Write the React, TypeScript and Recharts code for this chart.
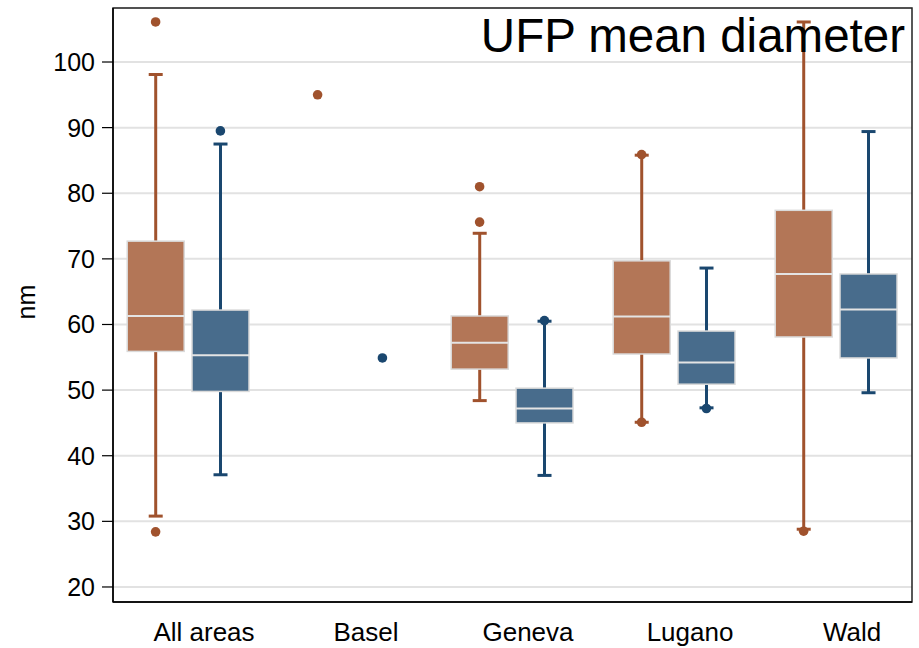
import React from 'react'
import {
  ComposedChart,
  Bar,
  Scatter,
  XAxis,
  YAxis,
  CartesianGrid,
  ReferenceArea,
} from 'recharts'

const categories = ['All areas', 'Basel', 'Geneva', 'Lugano', 'Wald']

// brown boxes (left of each pair)
const brownLowWhisker = [30.8, null, 48.4, 45.1, 28.8]
const brownQ1 = [55.9, null, 53.2, 55.5, 58.1]
const brownMedian = [61.3, null, 57.2, 61.2, 67.7]
const brownQ3 = [72.7, null, 61.3, 69.7, 77.4]
const brownHighWhisker = [98.1, null, 73.9, 85.8, 106.1]
const brownOutliers = [[106.1, 28.4], [95.0], [81.0, 75.6], [85.9, 45.1], [28.5]]

// blue boxes (right of each pair)
const blueLowWhisker = [37.1, null, 37.0, 47.3, 49.6]
const blueQ1 = [49.8, null, 45.0, 50.9, 54.9]
const blueMedian = [55.3, null, 47.2, 54.2, 62.3]
const blueQ3 = [62.2, null, 50.3, 59.0, 67.7]
const blueHighWhisker = [87.5, null, 60.5, 68.6, 89.4]
const blueOutliers = [[89.5], [54.9], [60.6], [47.2], []]

const yTicks = [20, 30, 40, 50, 60, 70, 80, 90, 100]
const xTicks = [0, 1, 2, 3, 4]

const Y_MIN = 17.71
const Y_MAX = 108.23
const X_DOMAIN = [-0.463, 4.469]
const PAIR_OFFSET = 0.2 // half the distance between the two boxes, in category units

const COLORS = {
  brown: { line: '#a0522d', fill: '#b37657' },
  blue: { line: '#1a476f', fill: '#486c8c' },
}
const FONT = '"Liberation Sans", Arial, Helvetica, sans-serif'

function boxRows(series: 'brown' | 'blue', lo, q1, med, q3, hi, shift: number) {
  return categories
    .map((_, i) => ({ x: i + shift, series, lo: lo[i], q1: q1[i], med: med[i], q3: q3[i], hi: hi[i] }))
    .filter((r) => r.q1 != null)
}

const rows = [
  ...boxRows('brown', brownLowWhisker, brownQ1, brownMedian, brownQ3, brownHighWhisker, -PAIR_OFFSET),
  ...boxRows('blue', blueLowWhisker, blueQ1, blueMedian, blueQ3, blueHighWhisker, PAIR_OFFSET),
].sort((a, b) => a.x - b.x)

const brownPoints = brownOutliers.flatMap((vals, i) => vals.map((y) => ({ x: i - PAIR_OFFSET, y })))
const bluePoints = blueOutliers.flatMap((vals, i) => vals.map((y) => ({ x: i + PAIR_OFFSET, y })))

const BoxShape = (props: any) => {
  const s = props.payload
  if (!s || !Number.isFinite(props.y) || !Number.isFinite(props.height)) return <g />
  const { line, fill } = COLORS[s.series as 'brown' | 'blue']
  const top = Math.min(props.y, props.y + props.height)
  const h = Math.abs(props.height)
  const k = h / (s.hi - s.lo)
  const yOf = (v: number) => top + (s.hi - v) * k
  const cx = props.x + props.width / 2
  const half = 28.5
  const cap = 7
  return (
    <g>
      <line x1={cx} x2={cx} y1={yOf(s.hi)} y2={yOf(s.q3)} stroke={line} strokeWidth={3} />
      <line x1={cx} x2={cx} y1={yOf(s.q1)} y2={yOf(s.lo)} stroke={line} strokeWidth={3} />
      <line x1={cx - cap} x2={cx + cap} y1={yOf(s.hi)} y2={yOf(s.hi)} stroke={line} strokeWidth={3} />
      <line x1={cx - cap} x2={cx + cap} y1={yOf(s.lo)} y2={yOf(s.lo)} stroke={line} strokeWidth={3} />
      <rect
        x={cx - half}
        y={yOf(s.q3)}
        width={half * 2}
        height={yOf(s.q1) - yOf(s.q3)}
        fill={fill}
        stroke="#dadada"
        strokeWidth={1.5}
      />
      <line x1={cx - half} x2={cx + half} y1={yOf(s.med)} y2={yOf(s.med)} stroke="#e4e4e4" strokeWidth={2} />
    </g>
  )
}

const dot = (color: string) => (props: any) => <circle cx={props.cx} cy={props.cy} r={4.8} fill={color} />

const CategoryTick = (props: any) => (
  <text x={props.x + 16} y={props.y} dy="0.71em" textAnchor="middle" fontSize={26} fill="#000" fontFamily={FONT}>
    {categories[props.payload.value]}
  </text>
)

const YLabel = () => (
  <text x={35} y={302} transform="rotate(-90, 35, 302)" textAnchor="middle" fontSize={25} fill="#000" fontFamily={FONT}>
    nm
  </text>
)

export default function App() {
  return (
    <div style={{ position: 'absolute', left: 0, top: 0, width: 919, height: 648, background: '#fff', fontFamily: FONT }}>
      <ComposedChart width={919} height={648} data={rows} margin={{ top: 8, right: 7, bottom: 0, left: 0 }}>
        <CartesianGrid vertical={false} stroke="#e2e2e2" strokeWidth={2} />
        <XAxis
          dataKey="x"
          type="number"
          domain={X_DOMAIN}
          ticks={xTicks}
          allowDataOverflow
          height={46}
          tickLine={false}
          tickSize={10}
          tickMargin={11}
          axisLine={{ stroke: '#000', strokeWidth: 1.5 }}
          tick={<CategoryTick />}
        />
        <YAxis
          type="number"
          domain={[Y_MIN, Y_MAX]}
          ticks={yTicks}
          allowDataOverflow
          width={113}
          tickSize={11}
          tickMargin={7}
          tick={{ fontSize: 25, fill: '#000', fontFamily: FONT }}
          tickLine={{ stroke: '#000', strokeWidth: 1.2 }}
          axisLine={{ stroke: '#000', strokeWidth: 1.5 }}
          label={<YLabel />}
        />
        <ReferenceArea y1={Y_MIN} y2={Y_MAX} fill="none" stroke="#222" strokeWidth={1.5} ifOverflow="visible" />
        <Bar
          dataKey={(d: any) => [d.lo, d.hi]}
          barSize={57}
          shape={<BoxShape />}
          isAnimationActive={false}
        />
        <Scatter data={brownPoints} dataKey="y" shape={dot(COLORS.brown.line)} isAnimationActive={false} />
        <Scatter data={bluePoints} dataKey="y" shape={dot(COLORS.blue.line)} isAnimationActive={false} />
      </ComposedChart>
      <div
        style={{
          position: 'absolute',
          right: 14,
          top: 12,
          fontSize: 47.5,
          lineHeight: '47px',
          color: '#000',
          whiteSpace: 'nowrap',
        }}
      >
        UFP mean diameter
      </div>
    </div>
  )
}
